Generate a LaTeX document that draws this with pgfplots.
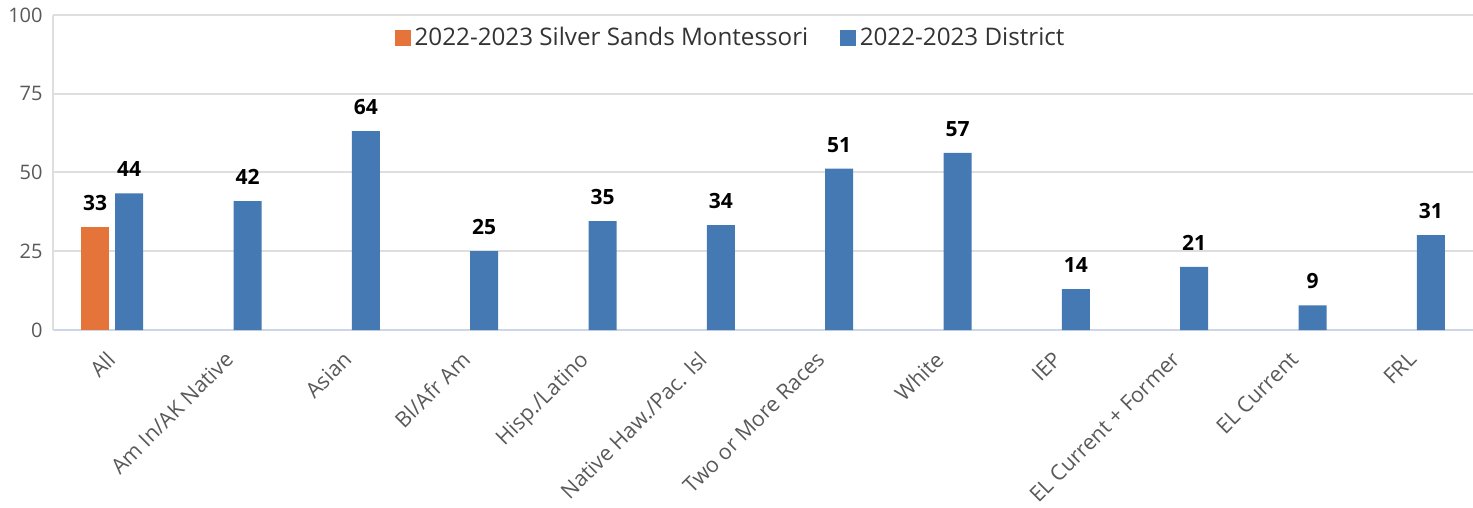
\documentclass[border=0pt]{standalone}
\usepackage{fontspec}
\setmainfont{Open Sans}
\usepackage{pgfplots}
\usepackage{pgfplotstable}
\pgfplotsset{compat=1.18}
\definecolor{sorange}{RGB}{229,116,58}
\definecolor{sblue}{RGB}{69,121,179}
\definecolor{tickgray}{RGB}{89,89,89}
\definecolor{gridgray}{RGB}{222,222,222}
\definecolor{axisblue}{RGB}{204,214,232}
\pgfplotstableread{
x y lab
0 32.6 33
}\school
\pgfplotstableread{
x y lab
0 43.4 44
1 40.9 42
2 63.1 64
3 25.0 25
4 34.6 35
5 33.3 34
6 51.2 51
7 56.2 57
8 13.0 14
9 20.0 21
10 7.8 9
11 30.1 31
}\district
\begin{document}
\begin{tikzpicture}
\begin{axis}[
  scale only axis,
  width=710pt, height=157.5pt,
  xmin=-0.5, xmax=11.5, ymin=0, ymax=100,
  enlarge x limits=false,
  ybar, bar width=14pt,
  xtick={0,...,11},
  xticklabels={All, Am In/AK Native, Asian, Bl/Afr Am, Hisp./Latino, Native Haw./Pac. Isl, Two or More Races, White, IEP, EL Current + Former, EL Current, FRL},
  ytick={0,25,50,75,100},
  major tick length=0pt,
  tick style={draw=none},
  ymajorgrids,
  grid style={color=gridgray, line width=1pt},
  axis x line=bottom, axis y line=left,
  axis line style={-},
  x axis line style={color=axisblue, line width=1.2pt},
  y axis line style={color=gridgray, line width=1pt},
  yticklabel style={font=\fontsize{10}{12}\selectfont, text=tickgray, inner sep=0pt, xshift=-5pt},
  xticklabel style={font=\fontsize{10.7}{13}\selectfont, text=tickgray, xshift=-3.5pt, yshift=-9.8pt, rotate=45, anchor=north east, inner sep=0pt},
  /pgf/number format/assume math mode=true,
  nodes near coords={\pgfplotspointmeta},
  point meta=explicit symbolic,
  every node near coord/.append style={font=\bfseries\fontsize{10.5}{12}\selectfont, text=black, anchor=south, inner sep=0pt, yshift=8pt},
  legend style={at={(0.478,0.927)}, anchor=center, draw=none, fill=none, legend columns=2,
    font=\fontsize{12.1}{14}\selectfont, text=black!80,
    /tikz/every even column/.append style={column sep=14pt}},
  legend image code/.code={\fill[#1] (0pt,-3.8pt) rectangle (7.8pt,4pt);},
]
\addplot[fill=sorange, draw=none, bar shift=-8.5pt] table[x=x, y=y, meta=lab] {\school};
\addplot[fill=sblue, draw=none, bar shift=8.5pt] table[x=x, y=y, meta=lab] {\district};
\legend{2022-2023 Silver Sands Montessori, 2022-2023 District}
\end{axis}
\pgfresetboundingbox
\path ([xshift=-26.5pt,yshift=-89pt]current axis.south west) rectangle ([yshift=7.5pt]current axis.north east);
\end{tikzpicture}
\end{document}
